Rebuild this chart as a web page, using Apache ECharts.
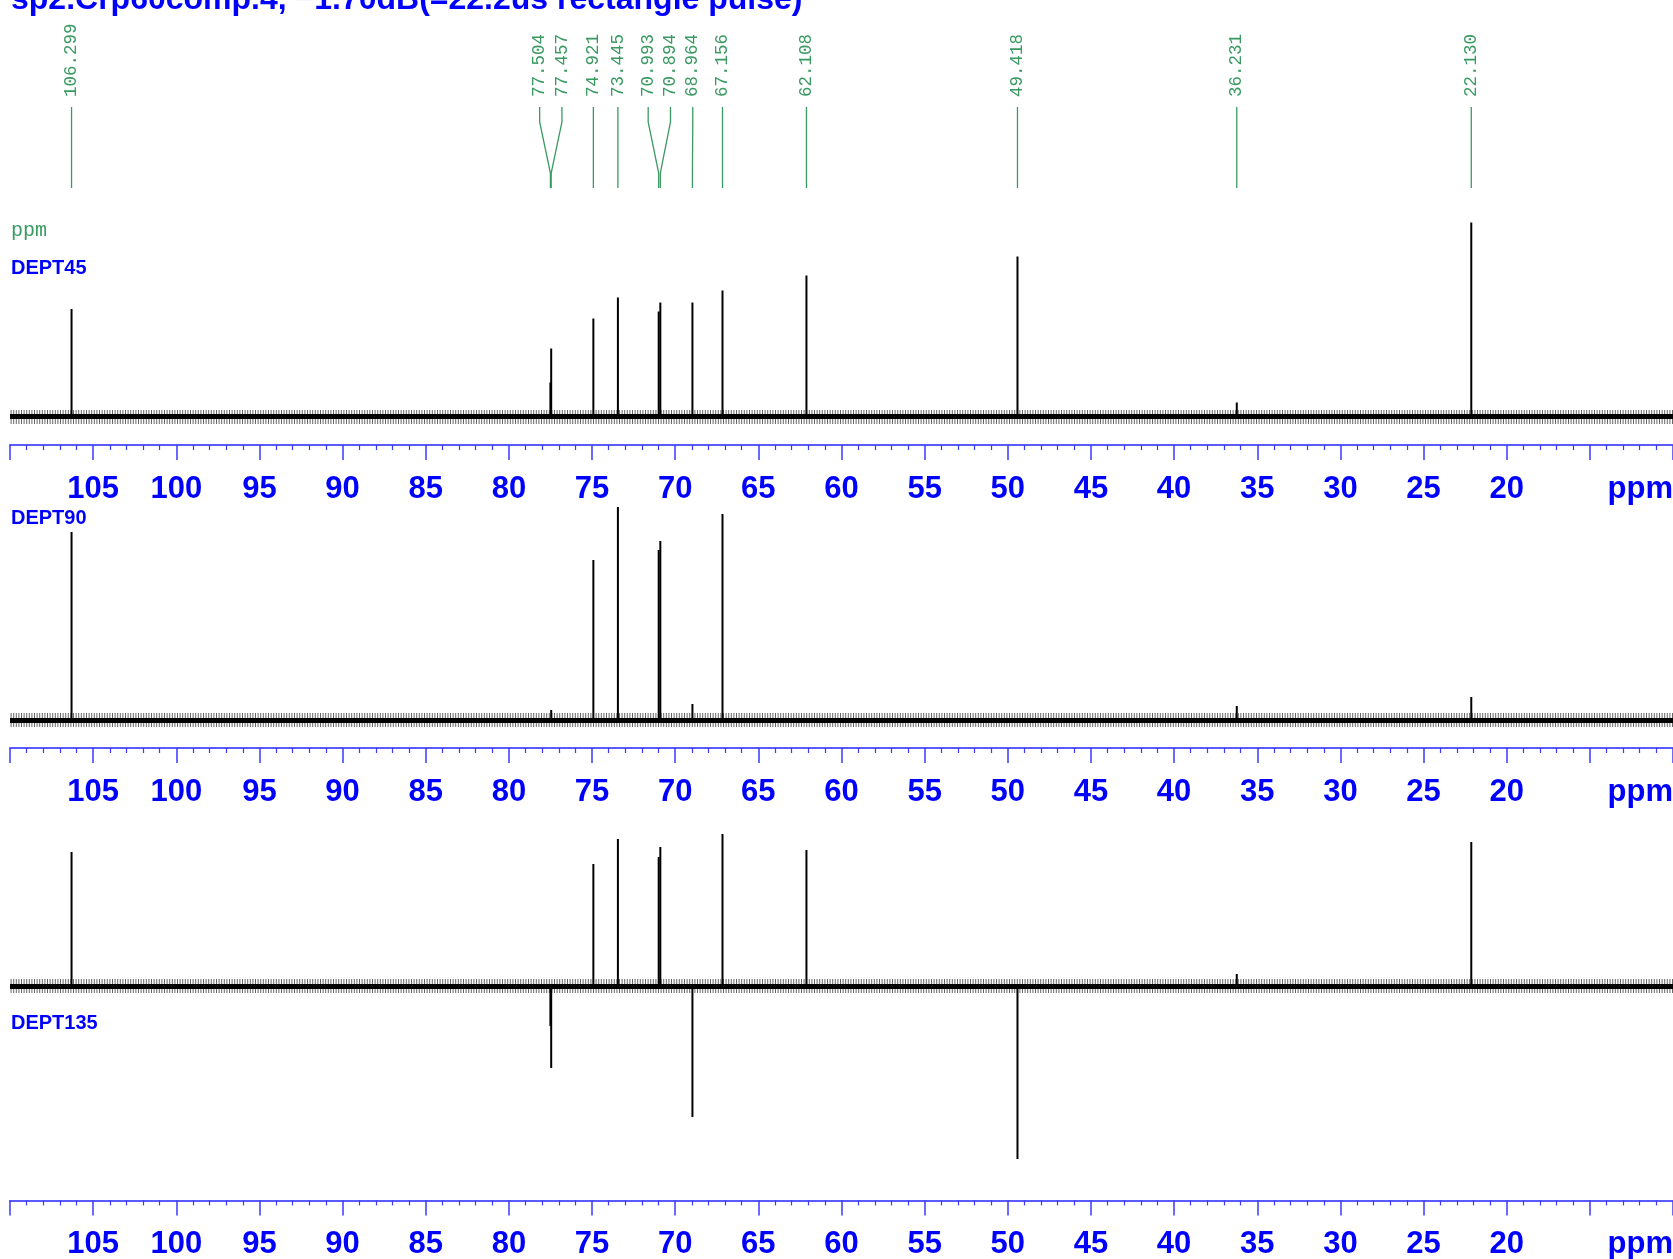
<!DOCTYPE html>
<html>
<head>
<meta charset="utf-8">
<title>DEPT 13C spectra</title>
<script src="https://cdn.jsdelivr.net/npm/echarts@6/dist/echarts.min.js"></script>
<style>
  html, body { margin: 0; padding: 0; background: #fff; }
  #chart { width: 1673px; height: 1259px; }
</style>
</head>
<body>
<div id="chart"></div>
<script>
// Picked peak positions (ppm)
const peakShifts = [106.299, 77.504, 77.457, 74.921, 73.445, 70.993, 70.894, 68.964, 67.156, 62.108, 49.418, 36.231, 22.130];

// Peak intensities per experiment (arbitrary units, same order as peakShifts)
const dept45  = [107.5, 34, 68, 98, 119, 105, 114, 114, 126, 141, 160, 14, 194];
const dept90  = [188, 0, 10, 160, 213, 170, 179, 16, 206, 0, 0, 14, 23];
const dept135 = [134, -40, -82, 122, 147, 129, 139, -131, 152, 136, -173, 12, 144];

// Labelled range of the ppm axis
const ppmLabelMin = 20;
const ppmLabelMax = 105;

const titleText = 'sp2.Crp60comp.4, \u22121.70dB(=22.2us rectangle pulse)';
const spectrumNames = ['DEPT45', 'DEPT90', 'DEPT135'];

const BLUE = '#0000ff';
const AXIS_BLUE = '#5a5aff';
const GREEN = '#3a9a62';
const SANS = '"Liberation Sans", Arial, sans-serif';
const MONO = '"Liberation Mono", "Courier New", monospace';

// Spread overlapping peak labels apart by a minimum pixel gap
function spreadLabels(xs, gap) {
  const order = xs.map((x, i) => i).sort((a, b) => xs[a] - xs[b]);
  let groups = order.map(i => ({ ids: [i], center: xs[i] }));
  let changed = true;
  while (changed) {
    changed = false;
    for (let k = 0; k < groups.length - 1; k++) {
      const a = groups[k], b = groups[k + 1];
      const aRight = a.center + (a.ids.length - 1) * gap / 2;
      const bLeft = b.center - (b.ids.length - 1) * gap / 2;
      if (bLeft - aRight < gap) {
        const ids = a.ids.concat(b.ids);
        const center = ids.reduce((s, i) => s + xs[i], 0) / ids.length;
        groups.splice(k, 2, { ids, center });
        changed = true;
        break;
      }
    }
  }
  const out = [];
  groups.forEach(g => g.ids.forEach((id, j) => {
    out[id] = g.center + (j - (g.ids.length - 1) / 2) * gap;
  }));
  return out;
}

const chart = echarts.init(document.getElementById('chart'), null, { renderer: 'canvas' });

// Layout of the three stacked spectra: grid top, height, y-range
const panels = [
  { top: 216.5, height: 228.5, ymin: -28.5, ymax: 200, data: dept45 },
  { top: 490,   height: 258,   ymin: -28,   ymax: 230, data: dept90 },
  { top: 816,   height: 384.4, ymin: -214.4, ymax: 170, data: dept135 }
];

const gridBase = { left: 10, right: 0, containLabel: false, outerBoundsMode: 'none' };
const grids = [Object.assign({}, gridBase, { top: 0, height: 188 })];
const xAxes = [{
  gridIndex: 0, type: 'value', min: 10, max: 110, inverse: true, show: false
}];
const yAxes = [{
  gridIndex: 0, type: 'value', min: 0, max: 188, inverse: true, show: false
}];

panels.forEach((p, i) => {
  grids.push(Object.assign({}, gridBase, { top: p.top, height: p.height }));
  xAxes.push({
    gridIndex: i + 1,
    type: 'value',
    min: 10, max: 110, interval: 5,
    inverse: true,
    position: 'bottom',
    axisLine: { show: true, onZero: false, lineStyle: { color: AXIS_BLUE, width: 2 } },
    axisTick: { show: true, length: 15, lineStyle: { color: '#3a3aff', width: 1.5 } },
    minorTick: { show: true, splitNumber: 5, length: 5, lineStyle: { color: '#3a3aff', width: 1.2 } },
    splitLine: { show: false },
    minorSplitLine: { show: false },
    axisLabel: {
      margin: 29,
      color: BLUE,
      fontSize: 31,
      fontWeight: 'bold',
      fontFamily: SANS,
      formatter: v => (v >= ppmLabelMin && v <= ppmLabelMax) ? String(v) : ''
    }
  });
  yAxes.push({ gridIndex: i + 1, type: 'value', min: p.ymin, max: p.ymax, show: false });
});

const series = [];

// Peak pick annotations: rotated values with connector lines
series.push({
  type: 'custom',
  xAxisIndex: 0,
  yAxisIndex: 0,
  silent: true,
  clip: false,
  data: peakShifts.map((p, i) => [p, i]),
  renderItem: function (params, api) {
    const idx = params.dataIndex;
    const xs = peakShifts.map(p => api.coord([p, 0])[0]);
    const lx = spreadLabels(xs, 22.3)[idx];
    const px = xs[idx];
    const y = v => api.coord([110, v])[1];
    return {
      type: 'group',
      children: [
        {
          type: 'polyline',
          shape: { points: [[lx, y(107)], [lx, y(122)], [px, y(173)], [px, y(188)]] },
          style: { stroke: GREEN, lineWidth: 1.3, fill: null }
        },
        {
          type: 'text',
          x: lx, y: y(97),
          rotation: Math.PI / 2,
          style: {
            text: peakShifts[idx].toFixed(3),
            fill: GREEN,
            font: '17.5px ' + MONO,
            align: 'left',
            verticalAlign: 'middle'
          }
        }
      ]
    };
  }
});

// Spectra: stick peaks on a noisy baseline band
panels.forEach((p, i) => {
  series.push({
    type: 'custom',
    name: spectrumNames[i],
    xAxisIndex: i + 1,
    yAxisIndex: i + 1,
    silent: true,
    z: 3,
    data: peakShifts.map((s, k) => [s, p.data[k]]),
    renderItem: function (params, api) {
      const base = api.coord([api.value(0), 0]);
      const top = api.coord([api.value(0), api.value(1)]);
      return {
        type: 'line',
        shape: { x1: base[0], y1: base[1], x2: top[0], y2: top[1] },
        style: { stroke: '#000', lineWidth: 2 }
      };
    },
    markLine: {
      silent: true,
      symbol: 'none',
      label: { show: false },
      data: [
        { yAxis: 0, lineStyle: { color: 'rgba(0,0,0,0.6)', width: 14, type: [1, 1.6] } },
        { yAxis: 0, lineStyle: { color: '#000', width: 5, type: 'solid' } }
      ]
    }
  });
});

const labelRowY = [489, 792, 1244];
const graphics = [
  {
    type: 'text', x: 11, y: 16,
    style: { text: titleText, fill: BLUE, font: 'bold 32px ' + SANS, verticalAlign: 'bottom' }
  },
  {
    type: 'text', x: 11, y: 231,
    style: { text: 'ppm', fill: GREEN, font: '20px ' + MONO, verticalAlign: 'middle' }
  },
  { type: 'text', x: 11, y: 268, style: { text: spectrumNames[0], fill: BLUE, font: 'bold 20px ' + SANS, verticalAlign: 'middle' } },
  { type: 'text', x: 11, y: 518, style: { text: spectrumNames[1], fill: BLUE, font: 'bold 20px ' + SANS, verticalAlign: 'middle' } },
  { type: 'text', x: 11, y: 1023, style: { text: spectrumNames[2], fill: BLUE, font: 'bold 20px ' + SANS, verticalAlign: 'middle' } }
];
labelRowY.forEach(yy => graphics.push({
  type: 'text', x: 1673, y: yy,
  style: { text: 'ppm', fill: BLUE, font: 'bold 31px ' + SANS, align: 'right', verticalAlign: 'middle' }
}));

chart.setOption({
  animation: false,
  backgroundColor: '#fff',
  grid: grids,
  xAxis: xAxes,
  yAxis: yAxes,
  series: series,
  graphic: graphics
});
</script>
</body>
</html>
